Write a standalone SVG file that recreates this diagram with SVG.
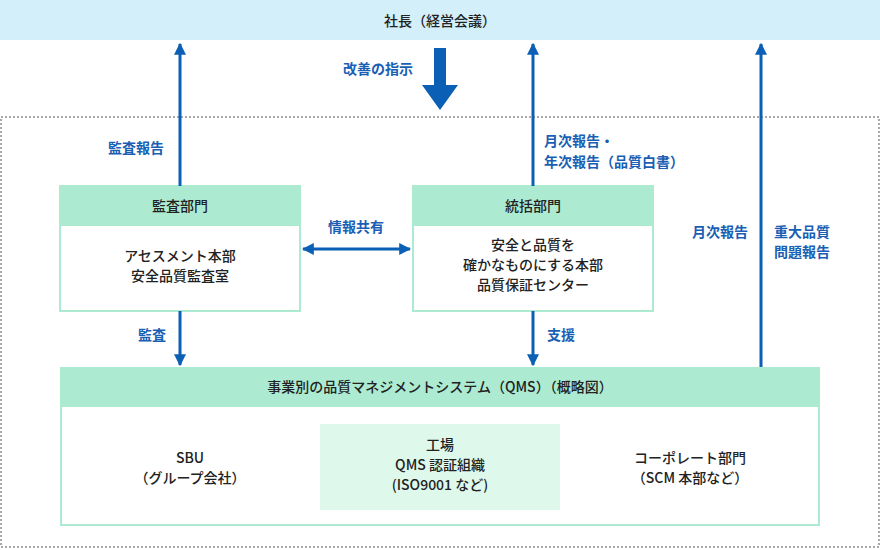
<svg xmlns="http://www.w3.org/2000/svg" width="880" height="550" viewBox="0 0 880 550">
<style>
text{font-family:"Noto Sans CJK JP","Noto Sans",sans-serif;font-size:14px;text-anchor:middle;font-weight:500}
.k{fill:#222}
.b{fill:#1a5fb4;font-weight:700}
.h{fill:#acebd2}
.box{fill:#fff;stroke:#acebd2;stroke-width:2}
.ln{stroke:#0b5fb5;stroke-width:3;fill:none}
</style>
<defs>
<marker id="a" viewBox="0 0 10 10" refX="9" refY="5" markerWidth="4" markerHeight="6" orient="auto-start-reverse" markerUnits="strokeWidth"><path d="M0,0L10,5L0,10z" fill="#0b5fb5"/></marker>
</defs>
<rect x="1" y="117" width="878" height="430" fill="none" stroke="#aaa" stroke-width="2" stroke-dasharray="2,2"/>
<g id="president"><rect x="0" y="0" width="880" height="40" fill="#d3effa"/><text class="k" x="440" y="26">社長（経営会議）</text></g>
<g id="audit"><rect class="box" x="60" y="186" width="240" height="125"/><rect class="h" x="60" y="186" width="240" height="40"/>
<text class="k" x="180" y="211">監査部門</text><text class="k" x="180" y="261">アセスメント本部</text><text class="k" x="180" y="281">安全品質監査室</text></g>
<g id="control"><rect class="box" x="413" y="186" width="240" height="125"/><rect class="h" x="413" y="186" width="240" height="40"/>
<text class="k" x="533" y="211">統括部門</text><text class="k" x="533" y="250">安全と品質を</text><text class="k" x="533" y="270">確かなものにする本部</text><text class="k" x="533" y="290">品質保証センター</text></g>
<g id="qms"><rect class="box" x="61" y="368" width="758" height="157"/><rect class="h" x="60" y="367" width="760" height="40"/>
<text class="k" x="440" y="392">事業別の品質マネジメントシステム（QMS）（概略図）</text>
<text class="k" x="190" y="463">SBU</text><text class="k" x="190" y="483">（グループ会社）</text>
<rect x="320" y="424" width="240" height="86" fill="#def9eb"/>
<text class="k" x="440" y="450">工場</text><text class="k" x="440" y="470">QMS 認証組織</text><text class="k" x="440" y="490">(ISO9001 など)</text>
<text class="k" x="690" y="463">コーポレート部門</text><text class="k" x="690" y="483">（SCM 本部など）</text></g>
<g id="connectors">
<line class="ln" x1="180" y1="186" x2="180" y2="44" marker-end="url(#a)"/>
<line class="ln" x1="533" y1="186" x2="533" y2="44" marker-end="url(#a)"/>
<line class="ln" x1="761" y1="367" x2="761" y2="44" marker-end="url(#a)"/>
<line class="ln" x1="180" y1="311" x2="180" y2="365" marker-end="url(#a)"/>
<line class="ln" x1="533" y1="311" x2="533" y2="365" marker-end="url(#a)"/>
<line class="ln" x1="303" y1="249" x2="410" y2="249" marker-start="url(#a)" marker-end="url(#a)"/>
<path d="M434,48H446V85H458L440,110L422,85H434Z" fill="#0b5fb5"/>
<text class="b" x="378" y="74">改善の指示</text>
<text class="b" x="136" y="153">監査報告</text>
<text class="b" x="544" y="146" style="text-anchor:start">月次報告・</text>
<text class="b" x="544" y="167" style="text-anchor:start">年次報告（品質白書）</text>
<text class="b" x="356" y="232">情報共有</text>
<text class="b" x="720" y="237">月次報告</text>
<text class="b" x="802" y="237">重大品質</text><text class="b" x="802" y="257">問題報告</text>
<text class="b" x="152" y="340">監査</text>
<text class="b" x="561" y="340">支援</text>
</g>
</svg>
